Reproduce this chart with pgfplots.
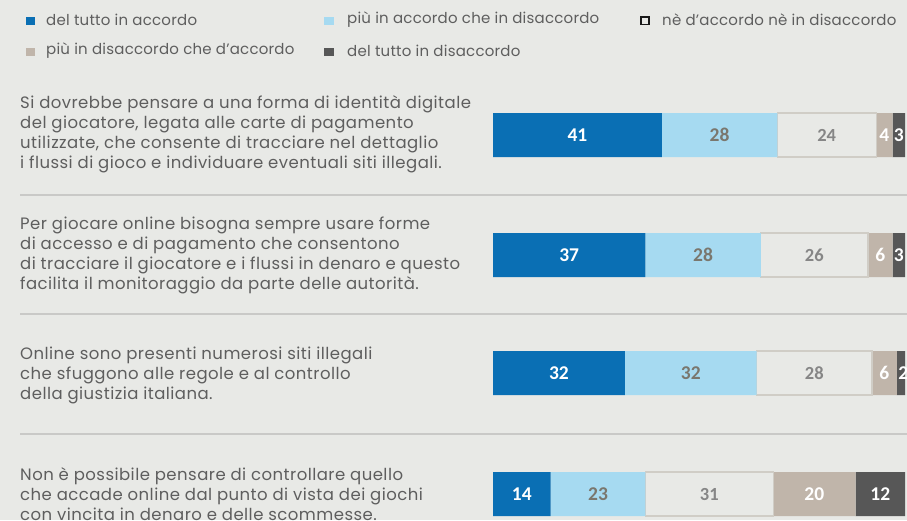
\documentclass[border=0pt]{standalone}
\usepackage{fontspec}
\setmainfont{Poppins}
\newfontfamily\numfont{Carlito}
\usepackage{pgfplots}
\pgfplotsset{compat=1.18}
\definecolor{bg}{HTML}{E8E9E6}
\definecolor{c1}{HTML}{0A6FB4}
\definecolor{c2}{HTML}{A6DAF1}
\definecolor{c3}{HTML}{E8E9E6}
\definecolor{c3b}{HTML}{D0CDC6}
\definecolor{c4}{HTML}{C0B5AA}
\definecolor{c5}{HTML}{575757}
\definecolor{txt}{HTML}{5E5E5E}
\definecolor{sep}{HTML}{C9C9C7}
\definecolor{lab2}{HTML}{7A776E}
\definecolor{lab3}{HTML}{868686}
\begin{document}
\begin{tikzpicture}
\useasboundingbox (0pt,0pt) rectangle (907pt,-520pt);
\fill[bg] (0pt,0pt) rectangle (907pt,-520pt);
\foreach \y in {195,314,434} \draw[sep, line width=1.5pt] (20pt,-\y pt) -- (907pt,-\y pt);
% legend
\tikzset{legtxt/.style={anchor=west, text=txt, inner sep=0pt, font=\fontsize{15}{16}\selectfont\addfontfeatures{LetterSpace=1.5}}}
\fill[c1] (26pt,-17pt) rectangle (35pt,-25pt);
\node[legtxt] at (46pt,-20pt) {del tutto in accordo};
\fill[c2] (324pt,-17pt) rectangle (334pt,-25pt);
\node[legtxt] at (347pt,-20pt) {più in accordo che in disaccordo};
\draw[black!90, line width=1.5pt] (641pt,-17pt) rectangle (649pt,-24.5pt);
\node[legtxt] at (662pt,-20pt) {nè d’accordo nè in disaccordo};
\fill[c4] (26pt,-48pt) rectangle (35pt,-56pt);
\node[legtxt] at (46pt,-51pt) {più in disaccordo che d’accordo};
\fill[c5] (324pt,-48pt) rectangle (334pt,-56pt);
\node[legtxt] at (347pt,-51pt) {del tutto in disaccordo};
% statements
\tikzset{stmt/.style={anchor=west, align=left, text=txt, inner sep=0pt, font=\fontsize{16.5}{20}\selectfont\addfontfeatures{LetterSpace=2.8}}}
\node[stmt] at (20pt,-134pt) {Si dovrebbe pensare a una forma di identità digitale\\del giocatore, legata alle carte di pagamento\\utilizzate, che consente di tracciare nel dettaglio\\i flussi di gioco e individuare eventuali siti illegali.};
\node[stmt] at (20pt,-255pt) {Per giocare online bisogna sempre usare forme\\di accesso e di pagamento che consentono\\di tracciare il giocatore e i flussi in denaro e questo\\facilita il monitoraggio da parte delle autorità.};
\node[stmt] at (20pt,-375pt) {Online sono presenti numerosi siti illegali\\che sfuggono alle regole e al controllo\\della giustizia italiana.};
\node[stmt] at (20pt,-494pt) {Non è possibile pensare di controllare quello\\che accade online dal punto di vista dei giochi\\con vincita in denaro e delle scommesse.};
% bars
\begin{axis}[at={(493pt,-520pt)}, anchor=south west, scale only axis,
  width=412pt, height=520pt, xmin=0, xmax=100, ymin=-520, ymax=0,
  axis lines=none, xbar stacked, bar width=44pt, clip=false]
\addplot[fill=c1, draw=none] coordinates {(41,-135) (37,-255) (32,-373) (14,-494)};
\addplot[fill=c2, draw=none] coordinates {(28,-135) (28,-255) (32,-373) (23,-494)};
\addplot[fill=c3, draw=c3b, line width=1.2pt] coordinates {(24,-135) (26,-255) (28,-373) (31,-494)};
\addplot[fill=c4, draw=none] coordinates {(4,-135) (6,-255) (6,-373) (20,-494)};
\addplot[fill=c5, draw=none] coordinates {(3,-135) (3,-255) (2,-373) (12,-494)};
\end{axis}
% labels
\begin{axis}[at={(493pt,-520pt)}, anchor=south west, scale only axis,
  width=412pt, height=520pt, xmin=0, xmax=100, ymin=-520, ymax=0,
  axis lines=none, clip=false,
  nodes near coords, point meta=explicit symbolic,
  every node near coord/.append style={anchor=center, inner sep=0pt, font=\numfont\bfseries\fontsize{19.5}{19.5}\selectfont}]
\addplot[only marks, mark=none, every node near coord/.append style={text=white}] coordinates {(20.5,-135) [41] (18.5,-255) [37] (16,-373) [32] (7,-494) [14]};
\addplot[only marks, mark=none, every node near coord/.append style={text=lab2}] coordinates {(55,-135) [28] (51,-255) [28] (48,-373) [32] (25.5,-494) [23]};
\addplot[only marks, mark=none, every node near coord/.append style={text=lab3, font=\numfont\fontsize{18.5}{18.5}\selectfont\bfseries}] coordinates {(81,-135) [24] (78,-255) [26] (78,-373) [28] (52.5,-494) [31]};
\addplot[only marks, mark=none, every node near coord/.append style={text=white}] coordinates {(95,-135) [4] (94,-255) [6] (95,-373) [6] (78,-494) [20]};
\addplot[only marks, mark=none, every node near coord/.append style={text=white}] coordinates {(98.5,-135) [3] (98.5,-255) [3] (99.6,-373) [2] (94,-494) [12]};
\end{axis}
\end{tikzpicture}
\end{document}
